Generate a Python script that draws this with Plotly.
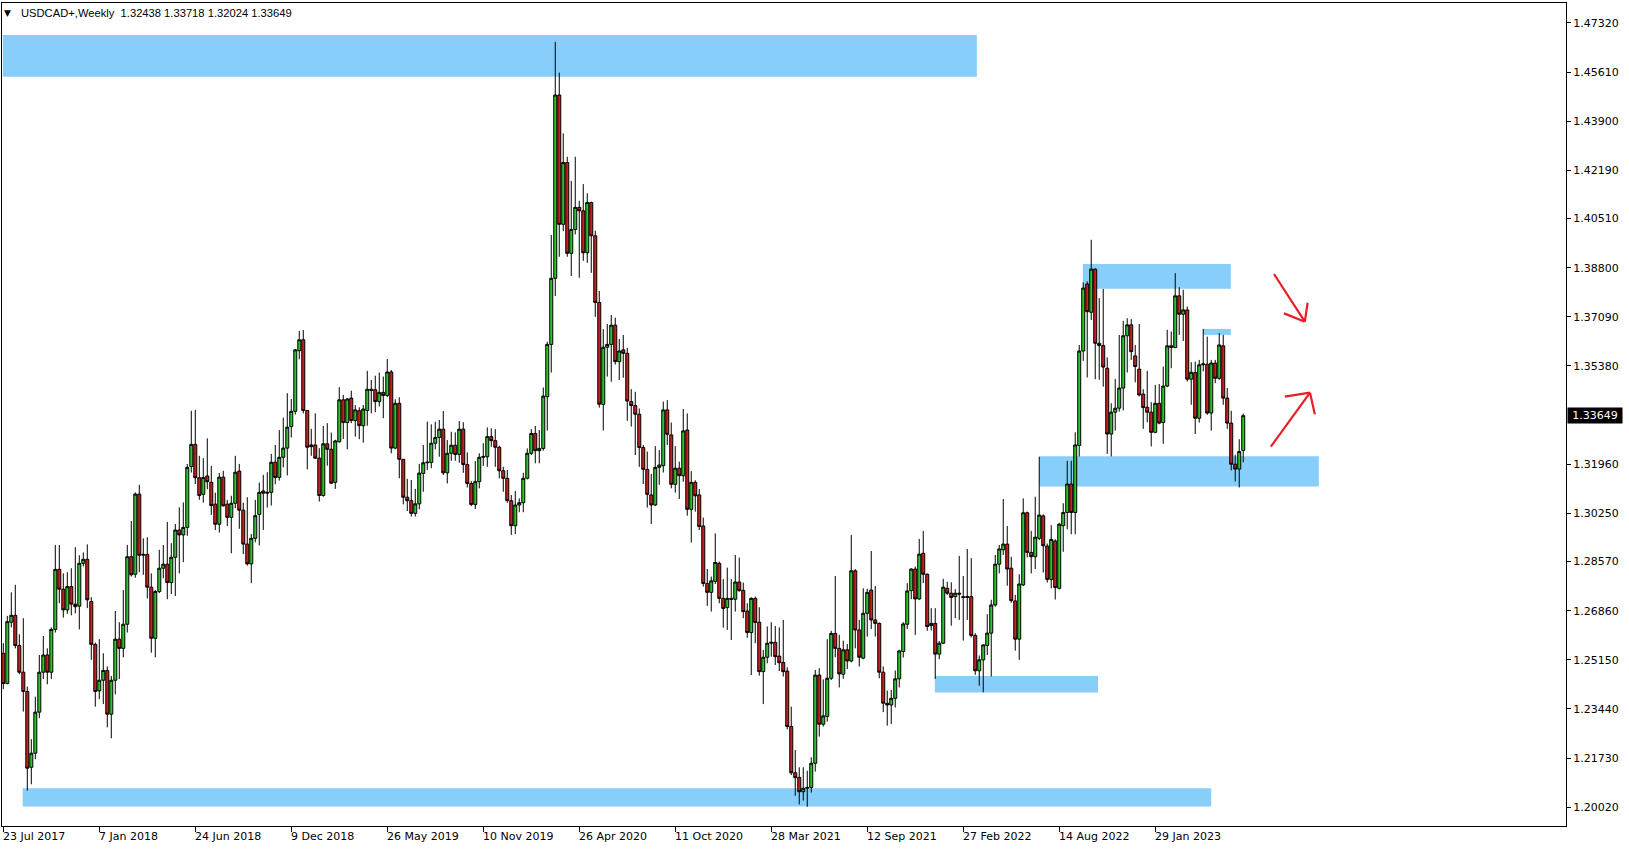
import pandas as pd
import plotly.graph_objects as go

# ---------------- data (weekly USDCAD+ candles) ----------------
start_date = "2017-07-23"

opens = [
    1.2538, 1.2433, 1.2646, 1.2670, 1.2565, 1.2472, 1.2405, 1.2141, 1.2190, 1.2333,
    1.2472, 1.2532, 1.2472, 1.2621, 1.2830, 1.2761, 1.2689, 1.2770, 1.2709, 1.2702,
    1.2851, 1.2865, 1.2718, 1.2569, 1.2407, 1.2444, 1.2478, 1.2326, 1.2444, 1.2587,
    1.2555, 1.2639, 1.2874, 1.2813, 1.3092, 1.2879, 1.2882, 1.2768, 1.2590, 1.2753,
    1.2834, 1.2848, 1.2784, 1.2872, 1.2967, 1.2950, 1.2976, 1.3188, 1.3265, 1.3149,
    1.3091, 1.3155, 1.3133, 1.3057, 1.2987, 1.3151, 1.3057, 1.3011, 1.3060, 1.3172,
    1.3036, 1.2918, 1.2849, 1.2938, 1.3021, 1.3103, 1.3095, 1.3098, 1.3203, 1.3150,
    1.3220, 1.3252, 1.3327, 1.3380, 1.3591, 1.3629, 1.3383, 1.3263, 1.3263, 1.3217,
    1.3087, 1.3267, 1.3248, 1.3133, 1.3274, 1.3420, 1.3341, 1.3426, 1.3348, 1.3382,
    1.3330, 1.3383, 1.3457, 1.3455, 1.3414, 1.3446, 1.3435, 1.3517, 1.3252, 1.3408,
    1.3213, 1.3081, 1.3069, 1.3025, 1.3058, 1.3164, 1.3201, 1.3202, 1.3269, 1.3289,
    1.3318, 1.3166, 1.3234, 1.3262, 1.3230, 1.3318, 1.3195, 1.3129, 1.3056, 1.3135,
    1.3220, 1.3222, 1.3292, 1.3278, 1.3255, 1.3173, 1.3147, 1.3069, 1.2982, 1.3054,
    1.3062, 1.3147, 1.3234, 1.3303, 1.3243, 1.3251, 1.3431, 1.3613, 1.3843, 1.4481,
    1.4031, 1.4246, 1.3930, 1.4013, 1.4090, 1.4078, 1.3932, 1.4107, 1.3991, 1.3759,
    1.3404, 1.3603, 1.3613, 1.3680, 1.3553, 1.3594, 1.3582, 1.3414, 1.3400, 1.3370,
    1.3254, 1.3178, 1.3089, 1.3054, 1.3185, 1.3191, 1.3385, 1.3298, 1.3126, 1.3182,
    1.3156, 1.3315, 1.3039, 1.3133, 1.3089, 1.2981, 1.2781, 1.2750, 1.2788, 1.2851,
    1.2729, 1.2697, 1.2729, 1.2726, 1.2786, 1.2757, 1.2685, 1.2610, 1.2729, 1.2646,
    1.2474, 1.2524, 1.2573, 1.2576, 1.2528, 1.2506, 1.2476, 1.2283, 1.2122, 1.2106,
    1.2056, 1.2068, 1.2071, 1.2155, 1.2462, 1.2291, 1.2318, 1.2451, 1.2607, 1.2555,
    1.2465, 1.2550, 1.2511, 1.2825, 1.2619, 1.2521, 1.2677, 1.2758, 1.2654, 1.2642,
    1.2472, 1.2364, 1.2358, 1.2381, 1.2449, 1.2544, 1.2639, 1.2756, 1.2831, 1.2727,
    1.2886, 1.2813, 1.2634, 1.2642, 1.2535, 1.2573, 1.2764, 1.2747, 1.2735, 1.2747,
    1.2735, 1.2732, 1.2735, 1.2600, 1.2477, 1.2515, 1.2565, 1.2608, 1.2706, 1.2848,
    1.2898, 1.2918, 1.2834, 1.2720, 1.2587, 1.2776, 1.3027, 1.2889, 1.2874, 1.2938,
    1.3016, 1.2911, 1.2795, 1.2929, 1.2764, 1.2982, 1.3028, 1.3127, 1.3028, 1.3261,
    1.3590, 1.3823, 1.3725, 1.3875, 1.3617, 1.3609, 1.3530, 1.3301, 1.3377, 1.3391,
    1.3461, 1.3643, 1.3681, 1.3573, 1.3527, 1.3440, 1.3394, 1.3377, 1.3307, 1.3408,
    1.3341, 1.3468, 1.3608, 1.3602, 1.3782, 1.3718, 1.3733, 1.3492, 1.3515, 1.3356,
    1.3542, 1.3544, 1.3374, 1.3548, 1.3495, 1.3608, 1.3426, 1.3339, 1.3196, 1.3179,
    1.32438,
]

highs = [
    1.2573, 1.2668, 1.2750, 1.2776, 1.2604, 1.2660, 1.2422, 1.2239, 1.2387, 1.2532,
    1.2598, 1.2555, 1.2628, 1.2915, 1.2915, 1.2816, 1.2820, 1.2834, 1.2907, 1.2879,
    1.2889, 1.2917, 1.2733, 1.2575, 1.2587, 1.2538, 1.2492, 1.2459, 1.2685, 1.2646,
    1.2758, 1.2915, 1.2998, 1.3098, 1.3124, 1.2938, 1.2942, 1.2816, 1.2758, 1.2898,
    1.2915, 1.2995, 1.2921, 1.2988, 1.3046, 1.3063, 1.3197, 1.3382, 1.3385, 1.3225,
    1.3217, 1.3286, 1.3190, 1.3097, 1.3165, 1.3173, 1.3072, 1.3086, 1.3225, 1.3197,
    1.3062, 1.3081, 1.2953, 1.3072, 1.3132, 1.3159, 1.3168, 1.3232, 1.3263, 1.3315,
    1.3358, 1.3443, 1.3423, 1.3597, 1.3660, 1.3663, 1.3385, 1.3319, 1.3373, 1.3252,
    1.3329, 1.3339, 1.3306, 1.3281, 1.3464, 1.3437, 1.3426, 1.3452, 1.3402, 1.3394,
    1.3402, 1.3521, 1.3489, 1.3504, 1.3515, 1.3501, 1.3562, 1.3524, 1.3422, 1.3429,
    1.3214, 1.3145, 1.3141, 1.3110, 1.3197, 1.3263, 1.3344, 1.3335, 1.3344, 1.3350,
    1.3381, 1.3280, 1.3309, 1.3307, 1.3346, 1.3342, 1.3237, 1.3137, 1.3207, 1.3234,
    1.3269, 1.3324, 1.3321, 1.3318, 1.3260, 1.3187, 1.3176, 1.3089, 1.3103, 1.3077,
    1.3166, 1.3251, 1.3318, 1.3329, 1.3315, 1.3463, 1.3622, 1.3994, 1.4666, 1.4559,
    1.4347, 1.4266, 1.4182, 1.4266, 1.4113, 1.4171, 1.4139, 1.4110, 1.4009, 1.3799,
    1.3666, 1.3684, 1.3715, 1.3706, 1.3632, 1.3646, 1.3601, 1.3457, 1.3448, 1.3390,
    1.3263, 1.3240, 1.3162, 1.3259, 1.3245, 1.3414, 1.3419, 1.3341, 1.3259, 1.3205,
    1.3388, 1.3373, 1.3172, 1.3140, 1.3110, 1.3010, 1.2831, 1.2805, 1.2955, 1.2857,
    1.2796, 1.2836, 1.2796, 1.2880, 1.2871, 1.2784, 1.2712, 1.2733, 1.2735, 1.2698,
    1.2549, 1.2631, 1.2646, 1.2633, 1.2628, 1.2654, 1.2489, 1.2352, 1.2201, 1.2141,
    1.2141, 1.2129, 1.2176, 1.2480, 1.2486, 1.2447, 1.2587, 1.2616, 1.2807, 1.2602,
    1.2582, 1.2570, 1.2950, 1.2831, 1.2654, 1.2764, 1.2762, 1.2894, 1.2772, 1.2645,
    1.2492, 1.2408, 1.2410, 1.2478, 1.2550, 1.2646, 1.2782, 1.2834, 1.2840, 1.2936,
    1.2964, 1.2816, 1.2695, 1.2695, 1.2581, 1.2797, 1.2787, 1.2785, 1.2761, 1.2877,
    1.2807, 1.2901, 1.2869, 1.2608, 1.2530, 1.2569, 1.2674, 1.2724, 1.2880, 1.2915,
    1.3075, 1.2981, 1.2874, 1.2741, 1.2813, 1.3077, 1.3031, 1.2964, 1.3083, 1.3222,
    1.3022, 1.2920, 1.2984, 1.2935, 1.2992, 1.3060, 1.3208, 1.3208, 1.3307, 1.3611,
    1.3829, 1.3832, 1.3977, 1.3878, 1.3774, 1.3806, 1.3568, 1.3408, 1.3493, 1.3646,
    1.3695, 1.3704, 1.3701, 1.3611, 1.3684, 1.3457, 1.3521, 1.3412, 1.3472, 1.3475,
    1.3536, 1.3664, 1.3658, 1.3861, 1.3812, 1.3803, 1.3745, 1.3551, 1.3553, 1.3559,
    1.3667, 1.3640, 1.3559, 1.3559, 1.3652, 1.3646, 1.3461, 1.3382, 1.3229, 1.3283,
    1.33718,
]

lows = [
    1.2413, 1.2430, 1.2628, 1.2555, 1.2465, 1.2335, 1.2060, 1.2082, 1.2169, 1.2312,
    1.2448, 1.2430, 1.2448, 1.2610, 1.2712, 1.2662, 1.2675, 1.2670, 1.2677, 1.2621,
    1.2840, 1.2695, 1.2515, 1.2352, 1.2378, 1.2361, 1.2280, 1.2242, 1.2395, 1.2448,
    1.2524, 1.2610, 1.2805, 1.2801, 1.2820, 1.2811, 1.2729, 1.2540, 1.2524, 1.2747,
    1.2799, 1.2726, 1.2744, 1.2737, 1.2816, 1.2855, 1.2947, 1.3167, 1.3127, 1.3072,
    1.3062, 1.3109, 1.3019, 1.2967, 1.2958, 1.3049, 1.2981, 1.2886, 1.3043, 1.2971,
    1.2883, 1.2843, 1.2782, 1.2924, 1.2913, 1.2967, 1.3045, 1.3052, 1.3126, 1.3139,
    1.3185, 1.3157, 1.3289, 1.3369, 1.3561, 1.3373, 1.3178, 1.3225, 1.3214, 1.3066,
    1.3083, 1.3191, 1.3127, 1.3110, 1.3271, 1.3284, 1.3248, 1.3339, 1.3292, 1.3283,
    1.3271, 1.3330, 1.3373, 1.3377, 1.3397, 1.3356, 1.3429, 1.3234, 1.3248, 1.3147,
    1.3056, 1.3033, 1.3014, 1.3014, 1.3039, 1.3100, 1.3176, 1.3182, 1.3248, 1.3222,
    1.3158, 1.3129, 1.3208, 1.3208, 1.3201, 1.3166, 1.3115, 1.3050, 1.3040, 1.3112,
    1.3190, 1.3187, 1.3257, 1.3187, 1.3147, 1.3100, 1.3062, 1.2950, 1.2953, 1.3029,
    1.3029, 1.3143, 1.3228, 1.3199, 1.3199, 1.3243, 1.3313, 1.3515, 1.3781, 1.3918,
    1.4007, 1.3918, 1.3851, 1.3996, 1.3845, 1.3904, 1.3897, 1.3862, 1.3709, 1.3393,
    1.3313, 1.3501, 1.3483, 1.3543, 1.3489, 1.3497, 1.3347, 1.3327, 1.3228, 1.3187,
    1.3127, 1.3045, 1.2988, 1.3050, 1.3124, 1.3167, 1.3263, 1.3112, 1.3097, 1.3075,
    1.3135, 1.3017, 1.2923, 1.3031, 1.2967, 1.2770, 1.2703, 1.2683, 1.2779, 1.2712,
    1.2627, 1.2619, 1.2584, 1.2683, 1.2752, 1.2660, 1.2592, 1.2462, 1.2573, 1.2460,
    1.2361, 1.2503, 1.2526, 1.2497, 1.2476, 1.2457, 1.2273, 1.2114, 1.2042, 1.2012,
    1.2025, 1.2004, 1.2053, 1.2126, 1.2248, 1.2283, 1.2300, 1.2445, 1.2524, 1.2419,
    1.2449, 1.2483, 1.2506, 1.2555, 1.2492, 1.2517, 1.2596, 1.2622, 1.2596, 1.2451,
    1.2333, 1.2286, 1.2292, 1.2349, 1.2419, 1.2523, 1.2622, 1.2726, 1.2602, 1.2724,
    1.2782, 1.2616, 1.2617, 1.2449, 1.2517, 1.2570, 1.2741, 1.2634, 1.2660, 1.2654,
    1.2582, 1.2654, 1.2593, 1.2463, 1.2425, 1.2402, 1.2532, 1.2457, 1.2700, 1.2816,
    1.2880, 1.2773, 1.2714, 1.2547, 1.2515, 1.2772, 1.2872, 1.2816, 1.2831, 1.2932,
    1.2819, 1.2784, 1.2764, 1.2725, 1.2760, 1.2891, 1.2969, 1.2952, 1.2952, 1.3223,
    1.3556, 1.3498, 1.3698, 1.3492, 1.3490, 1.3466, 1.3232, 1.3223, 1.3313, 1.3379,
    1.3383, 1.3515, 1.3559, 1.3481, 1.3432, 1.3319, 1.3342, 1.3258, 1.3304, 1.3335,
    1.3267, 1.3464, 1.3530, 1.3600, 1.3646, 1.3625, 1.3484, 1.3403, 1.3301, 1.3341,
    1.3519, 1.3368, 1.3313, 1.3478, 1.3490, 1.3403, 1.3319, 1.3174, 1.3136, 1.3115,
    1.32024,
]

closes = [
    1.2433, 1.2648, 1.2670, 1.2565, 1.2472, 1.2405, 1.2138, 1.2190, 1.2333, 1.2472,
    1.2532, 1.2472, 1.2621, 1.2830, 1.2761, 1.2689, 1.2770, 1.2709, 1.2700, 1.2851,
    1.2865, 1.2724, 1.2569, 1.2405, 1.2444, 1.2478, 1.2326, 1.2444, 1.2587, 1.2555,
    1.2639, 1.2874, 1.2811, 1.3092, 1.2879, 1.2882, 1.2768, 1.2590, 1.2753, 1.2834,
    1.2848, 1.2784, 1.2872, 1.2967, 1.2950, 1.2976, 1.3185, 1.3265, 1.3149, 1.3087,
    1.3150, 1.3135, 1.3052, 1.2987, 1.3151, 1.3051, 1.3011, 1.3060, 1.3168, 1.3036,
    1.2918, 1.2849, 1.2938, 1.3017, 1.3098, 1.3095, 1.3098, 1.3203, 1.3150, 1.3220,
    1.3252, 1.3325, 1.3380, 1.3594, 1.3629, 1.3383, 1.3255, 1.3257, 1.3217, 1.3087,
    1.3267, 1.3248, 1.3130, 1.3277, 1.3420, 1.3341, 1.3423, 1.3348, 1.3385, 1.3330,
    1.3388, 1.3457, 1.3453, 1.3414, 1.3446, 1.3435, 1.3517, 1.3252, 1.3408, 1.3213,
    1.3081, 1.3069, 1.3025, 1.3058, 1.3165, 1.3201, 1.3203, 1.3269, 1.3289, 1.3318,
    1.3166, 1.3234, 1.3262, 1.3230, 1.3318, 1.3195, 1.3129, 1.3056, 1.3135, 1.3220,
    1.3223, 1.3292, 1.3278, 1.3255, 1.3173, 1.3147, 1.3069, 1.2982, 1.3054, 1.3062,
    1.3147, 1.3234, 1.3303, 1.3243, 1.3251, 1.3433, 1.3613, 1.3843, 1.4481, 1.4031,
    1.4246, 1.3930, 1.4013, 1.4090, 1.4078, 1.3932, 1.4107, 1.3991, 1.3759, 1.3405,
    1.3603, 1.3613, 1.3680, 1.3553, 1.3590, 1.3582, 1.3416, 1.3400, 1.3370, 1.3254,
    1.3178, 1.3091, 1.3054, 1.3185, 1.3193, 1.3385, 1.3300, 1.3126, 1.3182, 1.3156,
    1.3312, 1.3039, 1.3133, 1.3086, 1.2979, 1.2781, 1.2750, 1.2790, 1.2854, 1.2729,
    1.2694, 1.2729, 1.2726, 1.2786, 1.2756, 1.2683, 1.2610, 1.2729, 1.2645, 1.2474,
    1.2524, 1.2573, 1.2576, 1.2526, 1.2505, 1.2474, 1.2283, 1.2122, 1.2105, 1.2056,
    1.2068, 1.2071, 1.2155, 1.2462, 1.2291, 1.2320, 1.2451, 1.2607, 1.2555, 1.2466,
    1.2550, 1.2511, 1.2825, 1.2619, 1.2524, 1.2677, 1.2750, 1.2654, 1.2642, 1.2472,
    1.2364, 1.2358, 1.2381, 1.2449, 1.2546, 1.2640, 1.2755, 1.2831, 1.2727, 1.2883,
    1.2813, 1.2631, 1.2642, 1.2535, 1.2573, 1.2768, 1.2747, 1.2732, 1.2747, 1.2744,
    1.2732, 1.2735, 1.2600, 1.2477, 1.2515, 1.2567, 1.2608, 1.2706, 1.2848, 1.2901,
    1.2918, 1.2831, 1.2721, 1.2587, 1.2779, 1.3027, 1.2889, 1.2874, 1.2942, 1.3019,
    1.2912, 1.2795, 1.2934, 1.2767, 1.2987, 1.3028, 1.3127, 1.3028, 1.3263, 1.3590,
    1.3809, 1.3727, 1.3875, 1.3617, 1.3609, 1.3534, 1.3301, 1.3377, 1.3391, 1.3461,
    1.3643, 1.3681, 1.3588, 1.3536, 1.3437, 1.3393, 1.3377, 1.3307, 1.3408, 1.3339,
    1.3468, 1.3608, 1.3602, 1.3782, 1.3718, 1.3733, 1.3492, 1.3516, 1.3356, 1.3542,
    1.3545, 1.3374, 1.3548, 1.3495, 1.3611, 1.3426, 1.3339, 1.3196, 1.3179, 1.3240,
    1.33649,
]

x_tick_weeks = [0, 24, 48, 72, 96, 120, 144, 168, 192, 216, 240, 264, 288]
x_tick_labels = ["23 Jul 2017", "7 Jan 2018", "24 Jun 2018", "9 Dec 2018", "26 May 2019",
                 "10 Nov 2019", "26 Apr 2020", "11 Oct 2020", "28 Mar 2021", "12 Sep 2021",
                 "27 Feb 2022", "14 Aug 2022", "29 Jan 2023"]
y_tick_values = [1.47320, 1.45610, 1.43900, 1.42190, 1.40510, 1.38800, 1.37090, 1.35380,
                 1.31960, 1.30250, 1.28570, 1.26860, 1.25150, 1.23440, 1.21730, 1.20020]
y_tick_labels = ["1.47320", "1.45610", "1.43900", "1.42190", "1.40510", "1.38800", "1.37090",
                 "1.35380", "1.31960", "1.30250", "1.28570", "1.26860", "1.25150", "1.23440",
                 "1.21730", "1.20020"]

header_text = "USDCAD+,Weekly  1.32438 1.33718 1.32024 1.33649"
last_price = 1.33649

# zones: (week_from, week_to, price_low, price_high)
zones = [
    (-0.1, 243.4, 1.4545, 1.4690),
    (4.85, 302.0, 1.2005, 1.2068),
    (232.9, 273.7, 1.2401, 1.2459),
    (269.9, 306.9, 1.3807, 1.3893),
    (300.0, 306.9, 1.3646, 1.3667),
    (259.0, 328.9, 1.3118, 1.3224),
]
# hand-drawn arrows: list of segments ((week, price), (week, price))
arrow_segments = [
    ((317.7, 1.3858), (325.4, 1.3692)),
    ((325.4, 1.3692), (320.2, 1.3721)),
    ((325.4, 1.3692), (326.1, 1.3758)),
    ((316.9, 1.3257), (326.7, 1.3445)),
    ((326.7, 1.3445), (320.4, 1.3431)),
    ((326.7, 1.3445), (327.9, 1.3370)),
]

assert len(opens) == len(highs) == len(lows) == len(closes) == 311

# ---------------- figure ----------------
start = pd.Timestamp(start_date)
dates = pd.date_range(start, periods=len(closes), freq="7D")


def wk(w):
    return (start + pd.Timedelta(days=7 * w)).strftime("%Y-%m-%d %H:%M:%S")


fig = go.Figure()
fig.add_trace(go.Candlestick(
    x=dates, open=opens, high=highs, low=lows, close=closes,
    increasing=dict(line=dict(color="black", width=1), fillcolor="#22cc22"),
    decreasing=dict(line=dict(color="black", width=1), fillcolor="#d41a1a"),
    whiskerwidth=0, showlegend=False, hoverinfo="skip",
))

shapes = []
for w0, w1, p0, p1 in zones:
    shapes.append(dict(type="rect", xref="x", yref="y", x0=wk(w0), x1=wk(w1), y0=p0, y1=p1,
                       fillcolor="#87cefa", line=dict(width=0), layer="below"))
for (wa, pa), (wb, pb) in arrow_segments:
    shapes.append(dict(type="line", xref="x", yref="y", x0=wk(wa), y0=pa, x1=wk(wb), y1=pb,
                       line=dict(color="#ec1c24", width=2.2)))

annotations = []
for w, lab in zip(x_tick_weeks, x_tick_labels):
    annotations.append(dict(x=wk(w), y=0, xref="x", yref="paper", text=lab, showarrow=False,
                            xanchor="left", yanchor="top", xshift=-2, yshift=-2,
                            font=dict(family="DejaVu Sans", size=11, color="black")))
annotations.append(dict(x=0, y=1, xref="paper", yref="paper", text="\u25bc", showarrow=False,
                        xanchor="left", yanchor="middle", xshift=0, yshift=-10,
                        font=dict(family="DejaVu Sans", size=9, color="black")))
annotations.append(dict(x=0, y=1, xref="paper", yref="paper", text=header_text, showarrow=False,
                        xanchor="left", yanchor="middle", xshift=17, yshift=-10,
                        font=dict(family="Liberation Sans", size=11.2, color="black")))
annotations.append(dict(x=1, y=last_price, xref="paper", yref="y", text="1.33649", showarrow=False,
                        xanchor="left", yanchor="middle", xshift=1, bgcolor="black",
                        width=52, height=13, borderpad=1,
                        font=dict(family="DejaVu Sans", size=11, color="white")))

fig.update_layout(
    width=1629, height=850,
    margin=dict(l=2, r=63, t=3, b=24),
    paper_bgcolor="white", plot_bgcolor="white",
    font=dict(family="DejaVu Sans", size=11, color="black"),
    boxgap=0.25, boxgroupgap=0,
    showlegend=False,
    shapes=shapes, annotations=annotations,
    xaxis=dict(
        type="date", range=[wk(-0.325), wk(390.7)],
        rangeslider=dict(visible=False),
        tickvals=[wk(w) for w in x_tick_weeks], showticklabels=False,
        ticks="outside", ticklen=5, tickcolor="black", tickwidth=1,
        showgrid=False, zeroline=False,
        showline=True, linecolor="black", linewidth=1, mirror=True,
    ),
    yaxis=dict(
        side="right", range=[1.19367, 1.48013],
        tickvals=y_tick_values, ticktext=y_tick_labels,
        ticks="outside", ticklen=4, tickcolor="black", tickwidth=1,
        tickfont=dict(family="DejaVu Sans", size=11, color="black"),
        showgrid=False, zeroline=False,
        showline=True, linecolor="black", linewidth=1, mirror=True,
    ),
)

fig.write_html(
    "out.html",
    config={"displayModeBar": False},
    post_script="document.body.style.margin='0';document.body.style.overflow='hidden';",
)
